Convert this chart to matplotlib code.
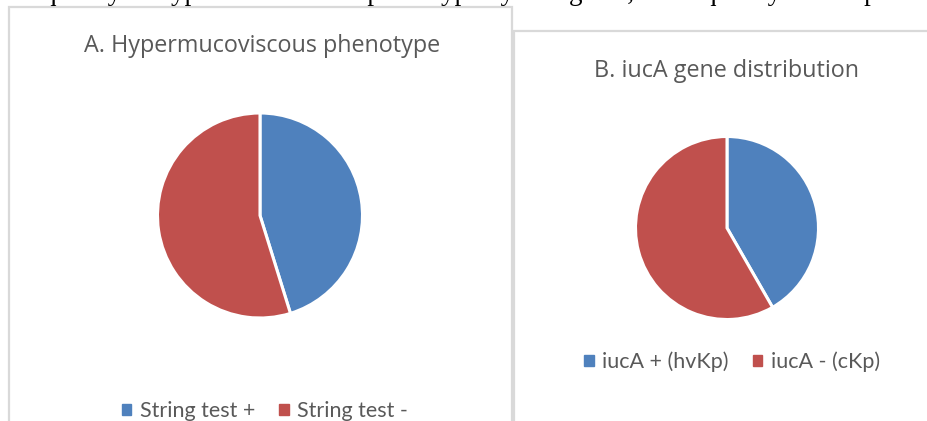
import matplotlib
matplotlib.use("Agg")
import matplotlib.pyplot as plt
from matplotlib.patches import Rectangle

# data (shares of isolates)
string_labels = ["String test +", "String test -"]
string_values = [45.2, 54.8]
iuca_labels = ["iucA + (hvKp)", "iucA - (cKp)"]
iuca_values = [41.7, 58.3]
colors = ["#4F81BD", "#C0504D"]

W, H = 928, 421
fig = plt.figure(figsize=(W / 100, H / 100), dpi=100)
fig.patch.set_facecolor("white")


def px_box(x0, y0, x1, y1):
    # pixel box (top-left origin) -> figure fraction rect
    return [x0 / W, 1 - y1 / H, (x1 - x0) / W, (y1 - y0) / H]


def border(x0, y0, x1, y1):
    l, b, w, h = px_box(x0, y0, x1, y1)
    fig.patches.append(Rectangle((l, b), w, h, transform=fig.transFigure,
                                 fill=False, edgecolor="#D9D9D9", lw=1.6))


# chart frames
border(9, 7, 512, 440)
border(514, 31, 940, 440)

# caption line of the page above, mostly cut off by the crop
fig.text(22 / W, 1 + 0.5 / H,
         "requency of hypermucoviscous phenotype by string test; C. frequency of hvKp",
         family="Liberation Serif", fontsize=19.5, color="black",
         va="baseline", ha="left")


def pie(cx, cy, r, values):
    ax = fig.add_axes(px_box(cx - r, cy - r, cx + r, cy + r))
    ax.pie(values, colors=colors, startangle=90, counterclock=False,
           wedgeprops=dict(edgecolor="white", linewidth=2.2))
    ax.set_xlim(-1, 1)
    ax.set_ylim(-1, 1)
    ax.set_aspect("equal")
    ax.axis("off")
    return ax


pie(260, 215.5, 102.5, string_values)
pie(727, 228, 91.5, iuca_values)

title_kw = dict(family="Open Sans", fontsize=16.8, color="#595959", ha="center", va="baseline")
fig.text(262 / W, 1 - 52 / H, "A. Hypermucoviscous phenotype", **title_kw)
fig.text(726.5 / W, 1 - 77 / H, "B. iucA gene distribution", **title_kw)


def legend(cx, cy, labels):
    handles = [Rectangle((0, 0), 1, 1, color=c) for c in colors]
    fig.legend(handles, labels, loc="center", bbox_to_anchor=(cx / W, 1 - cy / H),
               ncol=2, frameon=False, handlelength=0.45, handleheight=0.45,
               handletextpad=0.4, columnspacing=1.1,
               prop=dict(family="Lato", size=15.5),
               labelcolor="#595959")


legend(265, 411, string_labels)
legend(732, 362, iuca_labels)

fig.savefig("out.png", dpi=100, facecolor="white")
